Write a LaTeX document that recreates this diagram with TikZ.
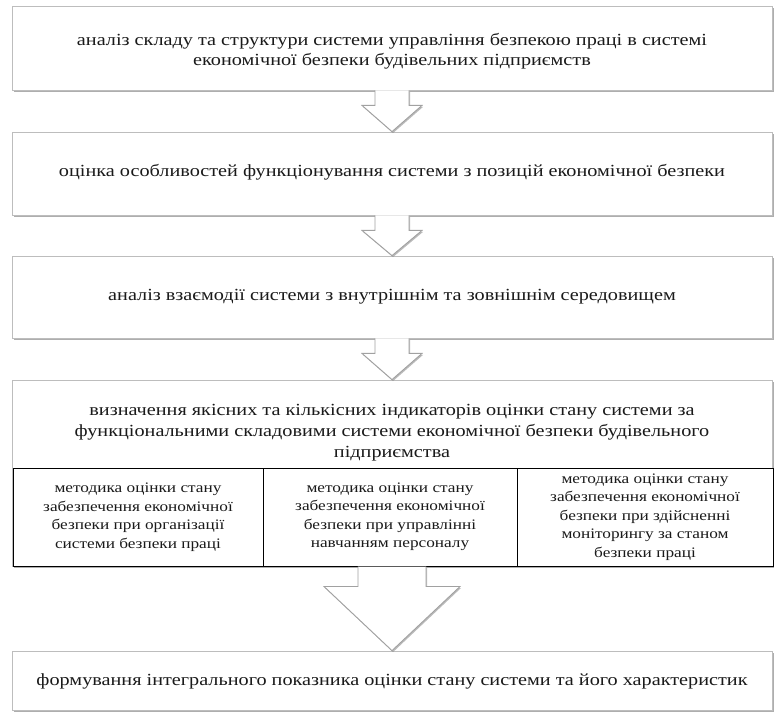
\documentclass[tikz,border=0pt]{standalone}
\usepackage{fontspec}
\setmainfont[FakeStretch=1.19]{Liberation Serif}
\usetikzlibrary{calc,shadows}
\definecolor{boxline}{HTML}{BDBDBD}
\definecolor{shadowc}{HTML}{8C8C8C}
\definecolor{txt}{HTML}{1A1A1A}
\tikzset{
  stepbox/.style={draw=boxline, line width=0.8pt, fill=white, minimum width=760pt,
    drop shadow={shadow xshift=1.5pt, shadow yshift=-2pt, fill=shadowc, opacity=0.7},
    inner sep=0pt},
  maintext/.style={align=center, text=txt, font=\fontsize{17}{20}\selectfont, inner sep=0pt},
  cell/.style={draw=black, line width=1pt, fill=white, minimum height=98pt, inner sep=0pt,
    align=center, text=txt, font=\fontsize{14.5}{18.5}\selectfont},
  blockarrow/.style={draw=boxline!85!black, line width=0.9pt, fill=white, line join=miter,
    drop shadow={shadow xshift=1pt, shadow yshift=-1.5pt, fill=shadowc, opacity=0.6}},
}
\begin{document}
\begin{tikzpicture}[x=1pt,y=-1pt]
\useasboundingbox (0,0) rectangle (778,713);
% boxes
\node[stepbox, minimum height=84pt] (b1) at (392,48) {};
\node[maintext] (t1) at (392,51) {аналіз складу та структури системи управління безпекою праці в системі\\економічної безпеки будівельних підприємств};
\node[stepbox, minimum height=83pt] (b2) at (392,173.5) {};
\node[maintext] (t2) at (392,172) {оцінка особливостей функціонування системи з позицій економічної безпеки};
\node[stepbox, minimum height=82pt] (b3) at (392,297) {};
\node[maintext] (t3) at (392,297) {аналіз взаємодії системи з внутрішнім та зовнішнім середовищем};
\node[stepbox, minimum height=186pt] (b4) at (392,473) {};
\node[maintext, font=\fontsize{17}{21}\selectfont] (t4) at (392,433) {визначення якісних та кількісних індикаторів оцінки стану системи за\\функціональними складовими системи економічної безпеки будівельного\\підприємства};
\node[cell, minimum width=250pt] (c1) at (138,517) {методика оцінки стану\\забезпечення економічної\\безпеки при організації\\системи безпеки праці};
\node[cell, minimum width=254pt] (c2) at (390,517) {методика оцінки стану\\забезпечення економічної\\безпеки при управлінні\\навчанням персоналу};
\node[cell, minimum width=256pt] (c3) at (645,517) {методика оцінки стану\\забезпечення економічної\\безпеки при здійсненні\\моніторингу за станом\\безпеки праці};
\node[stepbox, minimum height=59pt] (b5) at (392,680.5) {};
\node[maintext] (t5) at (392,681) {формування інтегрального показника оцінки стану системи та його характеристик};
% block arrows
\draw[blockarrow] ($(b1.south)+(-17,0)$) -- ($(b1.south)+(-17,15)$) -- ($(b1.south)+(-30,15)$)
  -- (b2.north) -- ($(b1.south)+(30,15)$) -- ($(b1.south)+(17,15)$) -- ($(b1.south)+(17,0)$);
\draw[blockarrow] ($(b2.south)+(-17,0)$) -- ($(b2.south)+(-17,15)$) -- ($(b2.south)+(-30,15)$)
  -- (b3.north) -- ($(b2.south)+(30,15)$) -- ($(b2.south)+(17,15)$) -- ($(b2.south)+(17,0)$);
\draw[blockarrow] ($(b3.south)+(-17,0)$) -- ($(b3.south)+(-17,15)$) -- ($(b3.south)+(-30,15)$)
  -- (b4.north) -- ($(b3.south)+(30,15)$) -- ($(b3.south)+(17,15)$) -- ($(b3.south)+(17,0)$);
\coordinate (tb) at (c2.south -| b4.south);
\draw[blockarrow] ($(tb)+(-34,0)$) -- ($(tb)+(-34,20)$) -- ($(tb)+(-68,20)$)
  -- (b5.north) -- ($(tb)+(68,20)$) -- ($(tb)+(34,20)$) -- ($(tb)+(34,0)$);
\end{tikzpicture}
\end{document}
